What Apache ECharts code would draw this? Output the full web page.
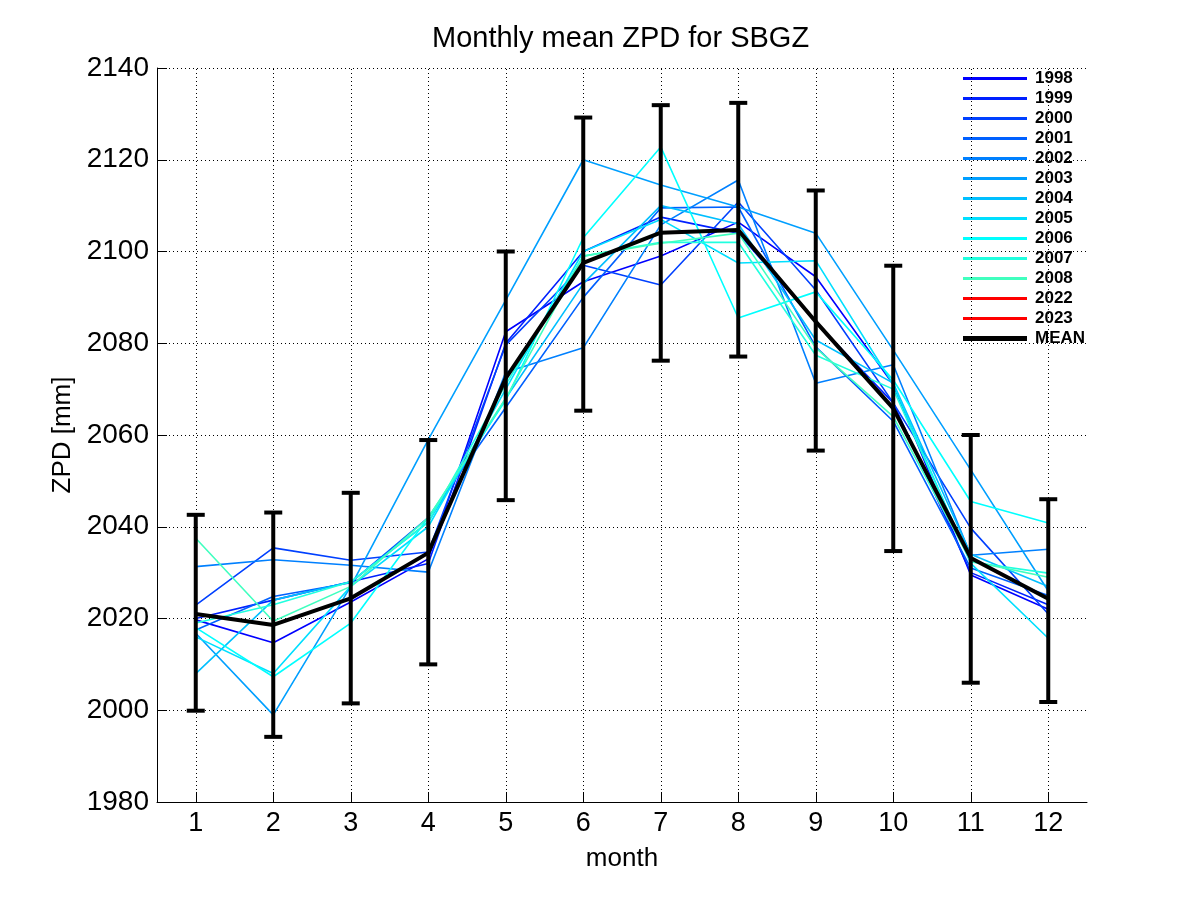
<!DOCTYPE html>
<html>
<head>
<meta charset="utf-8">
<script src="https://cdn.jsdelivr.net/npm/echarts@6/dist/echarts.min.js"></script>
<style>html,body{margin:0;padding:0;background:#fff}#c{width:1201px;height:901px}</style>
</head>
<body>
<div id="c"></div>
<script>
// ---- data ----
const months = [1, 2, 3, 4, 5, 6, 7, 8, 9, 10, 11, 12];
const yearNames = ['1998','1999','2000','2001','2002','2003','2004','2005','2006','2007','2008','2022','2023'];
const yearColors = ['#0000ff','#0020ff','#0040ff','#0060ff','#0080ff','#009fff','#00bfff','#00dfff','#00ffff','#20ffdf','#40ffbf','#ff0000','#ff0000'];
const y1998 = [2019.7, 2014.7, 2023.6, 2033.0, 2082.5, 2093.4, 2099.0, 2106.4, 2094.5, 2071.0, 2029.5, 2022.0];
const y1999 = [2020.0, 2024.0, 2028.0, 2032.0, 2080.0, 2100.0, 2107.5, 2104.0, 2084.6, 2067.0, 2030.0, 2023.0];
const y2000 = [2022.9, 2035.4, 2032.7, 2034.5, 2079.6, 2097.0, 2092.7, 2110.8, 2091.6, 2067.0, 2039.7, 2021.0];
const y2001 = [2017.5, 2024.8, 2027.8, 2042.0, 2066.0, 2090.0, 2109.5, 2109.7, 2079.2, 2063.0, 2031.0, 2025.0];
const y2002 = [2031.3, 2032.8, 2031.6, 2030.1, 2073.7, 2079.0, 2105.8, 2115.6, 2071.3, 2075.3, 2033.8, 2035.1];
const y2003 = [2016.8, 1999.0, 2027.0, 2059.0, 2089.4, 2120.0, 2114.5, 2109.7, 2104.0, 2078.5, 2052.4, 2026.0];
const y2004 = [2008.0, 2024.0, 2028.0, 2041.0, 2068.0, 2093.0, 2110.0, 2106.0, 2080.7, 2071.3, 2034.0, 2027.0];
const y2005 = [2016.0, 2008.0, 2027.0, 2040.0, 2070.0, 2100.0, 2107.0, 2097.5, 2098.0, 2071.0, 2032.0, 2015.7];
const y2006 = [2018.0, 2007.3, 2019.0, 2042.0, 2067.6, 2103.0, 2122.8, 2085.5, 2091.2, 2072.0, 2045.5, 2040.8];
const y2007 = [2019.0, 2023.0, 2028.0, 2041.0, 2071.0, 2099.0, 2102.0, 2102.0, 2077.4, 2070.0, 2032.3, 2029.9];
const y2008 = [2037.5, 2019.4, 2027.0, 2042.0, 2068.0, 2099.0, 2101.8, 2104.0, 2079.0, 2064.0, 2032.5, 2029.0];
const y2022 = [];
const y2023 = [];
const meanZPD = [2021.0, 2018.6, 2024.4, 2034.3, 2072.4, 2097.5, 2104.1, 2104.7, 2084.7, 2065.8, 2033.2, 2024.3];
const errLow  = [1999.9, 1994.2, 2001.5, 2010.0, 2045.8, 2065.3, 2076.2, 2077.1, 2056.6, 2034.7, 2006.0, 2001.8];
const errHigh = [2042.6, 2043.1, 2047.4, 2058.9, 2100.0, 2129.2, 2131.9, 2132.4, 2113.3, 2096.9, 2060.0, 2046.0];
const yTicks = [1980, 2000, 2020, 2040, 2060, 2080, 2100, 2120, 2140];

// ---- chart ----
const yearData = [y1998, y1999, y2000, y2001, y2002, y2003, y2004, y2005, y2006, y2007, y2008, y2022, y2023];
const FONT = '"Liberation Sans", Arial, Helvetica, sans-serif';
const series = [];
yearNames.forEach((n, i) => {
  series.push({
    name: n, type: 'line', color: yearColors[i],
    data: yearData[i].map((v, k) => [months[k], v]),
    symbol: 'none', animation: false, silent: true,
    lineStyle: { color: yearColors[i], width: 1.6 },
    z: 2
  });
});
series.push({
  name: 'MEAN', type: 'line', color: '#000',
  data: meanZPD.map((v, k) => [months[k], v]),
  symbol: 'none', animation: false, silent: true,
  lineStyle: { color: '#000', width: 4 }, z: 3
});
series.push({
  name: 'err', type: 'custom', animation: false, silent: true, z: 4,
  data: months.map((m, k) => [m, errLow[k], errHigh[k]]),
  encode: { x: 0, y: [1, 2] },
  renderItem: function (params, api) {
    const x = api.value(0);
    const lo = api.coord([x, api.value(1)]);
    const hi = api.coord([x, api.value(2)]);
    const hw = 9;
    const st = { stroke: '#000', lineWidth: 4, fill: null };
    return {
      type: 'group',
      children: [
        { type: 'line', shape: { x1: lo[0], y1: lo[1], x2: hi[0], y2: hi[1] }, style: st },
        { type: 'line', shape: { x1: lo[0] - hw, y1: lo[1], x2: lo[0] + hw, y2: lo[1] }, style: st },
        { type: 'line', shape: { x1: hi[0] - hw, y1: hi[1], x2: hi[0] + hw, y2: hi[1] }, style: st }
      ]
    };
  }
});
series.push({
  name: 'grid', type: 'line', data: [], silent: true, animation: false,
  markLine: {
    silent: true, symbol: 'none', animation: false,
    label: { show: false },
    lineStyle: { color: '#000', type: [1, 3], width: 1 },
    data: months.map(m => ({ xAxis: m }))
  },
  z: 1
});

const legendText = { fontFamily: FONT, fontSize: 17, fontWeight: 'bold', color: '#000', lineHeight: 16, padding: [0, 0, 0, 3] };
const chart = echarts.init(document.getElementById('c'));
chart.setOption({
  backgroundColor: '#fff',
  animation: false,
  textStyle: { fontFamily: FONT },
  title: {
    text: 'Monthly mean ZPD for SBGZ',
    left: 432, top: 24, padding: 0,
    textStyle: { fontFamily: FONT, fontSize: 29, fontWeight: 'normal', color: '#000' }
  },
  grid: { left: 157, right: 114, top: 68, bottom: 99, containLabel: false },
  legend: [{
    orient: 'vertical', left: 963, top: 70, padding: 0,
    data: yearNames, selectedMode: false,
    icon: 'rect', itemWidth: 64, itemHeight: 3, itemGap: 3,
    textStyle: legendText
  }, {
    orient: 'vertical', left: 963, top: 330, padding: 0,
    data: ['MEAN'], selectedMode: false,
    icon: 'rect', itemWidth: 64, itemHeight: 5, itemGap: 3,
    textStyle: legendText
  }],
  xAxis: {
    type: 'value', min: 0.5, max: 12.5,
    name: 'month', nameLocation: 'middle', nameGap: 44,
    nameTextStyle: { fontFamily: FONT, fontSize: 26, color: '#000' },
    axisLine: { show: true, lineStyle: { color: '#000', width: 1 } },
    axisTick: { show: true, inside: true, length: 10, customValues: months, lineStyle: { color: '#000' } },
    axisLabel: { customValues: months, margin: 8, fontFamily: FONT, fontSize: 27, color: '#000' },
    splitLine: { show: false }
  },
  yAxis: {
    type: 'value', min: yTicks[0], max: yTicks[yTicks.length - 1], interval: 20,
    name: 'ZPD [mm]', nameLocation: 'middle', nameGap: 71,
    nameTextStyle: { fontFamily: FONT, fontSize: 26, color: '#000' },
    axisLine: { show: true, lineStyle: { color: '#000', width: 1 } },
    axisTick: { show: true, inside: true, length: 10, lineStyle: { color: '#000' } },
    axisLabel: { margin: 8, fontFamily: FONT, fontSize: 28, color: '#000', formatter: v => String(v) },
    splitLine: { show: true, lineStyle: { color: '#000', type: [1, 3], width: 1 } }
  },
  series: series
});
</script>
</body>
</html>
